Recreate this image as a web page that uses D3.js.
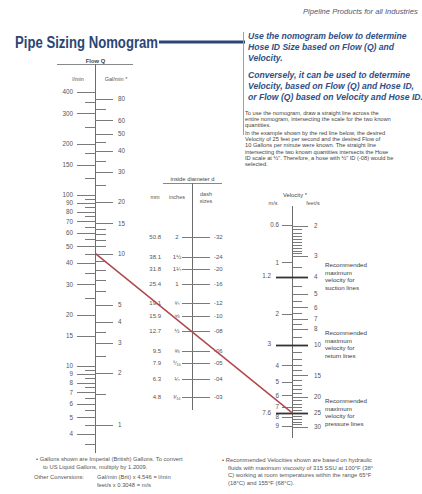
<!DOCTYPE html>
<html><head><meta charset="utf-8">
<script src="https://cdn.jsdelivr.net/npm/d3@7"></script>
<style>
html,body{margin:0;padding:0;background:#fff;}
svg{display:block;font-family:"Liberation Sans",Arial,sans-serif;}
</style>
</head><body>
<svg id="c" width="422" height="494"></svg>
<script>
// ---------- DATA ----------
const flowLpmMajor = [400, 300, 200, 150, 100, 90, 80, 70, 60, 50, 40, 30, 20, 15, 10, 9, 8, 7, 6, 5, 4];
const flowLpmMinor = [350, 250, 175, 125, 95, 85, 75, 65, 55, 45, 35, 25, 9.5, 8.5, 7.5, 6.5, 5.5, 4.5, 3.5];
const flowGpmMajor = [80, 60, 50, 40, 30, 20, 15, 10, 5, 4, 3, 2, 1];
const flowGpmMinor = [70, 45, 35, 25, 14, 13, 12, 11, 9, 8, 7, 6, 3.5, 2.5, 1.5];
const galToLitre = 4.546;

const diaMm = [50.8, 38.1, 31.8, 25.4, 19.1, 15.9, 12.7, 9.5, 7.9, 6.3, 4.8];
const diaInch = ["2", "1½", "1¼", "1", "¾", "⅝", "½", "⅜", "⁵⁄₁₆", "¼", "³⁄₁₆"];
const diaDash = ["-32", "-24", "-20", "-16", "-12", "-10", "-08", "-06", "-05", "-04", "-03"];

const velMs = [0.6, 1, 2, 4, 5, 6, 7, 8, 9];
const velFtMajor = [2, 3, 5, 6, 7, 8, 15, 20, 30];
const velFtMinor = [2.1, 2.2, 2.3, 2.4, 2.5, 2.6, 2.7, 2.8, 2.9, 3.5, 4.5, 5.5, 6.5, 7.5, 9,
  11, 12, 13, 14, 16, 17, 18, 19, 21, 22, 23, 24, 26, 27, 28, 29];
const recMs = [1.2, 3, 7.6];
const recFt = [4, 10, 25];
const recLines = ["suction lines", "return lines", "pressure lines"];
const msToFt = 1 / 0.3048;

const exampleFlowGpm = 10;
const exampleVelFt = 25;

// ---------- SETUP ----------
const svg = d3.select("#c");
const FX = 95.5, DX = 192.5, VX = 292.5;
const yFlow = d3.scaleLog().domain([100, 10]).range([195, 366]);
const yDia = d3.scaleLog().domain([50.8, 4.8]).range([237, 397]);
const yVel = d3.scaleLog().domain([2, 30]).range([225.7, 426.7]);

const tickCol = "#7a7a7a", txtCol = "#555";
const blue = "#2f4f86", titleBlue = "#2b4672";

function txt(x, y, s, o = {}) {
  const t = svg.append("text").attr("x", x).attr("y", y).text(s)
    .attr("font-size", o.size || 6).attr("fill", o.fill || txtCol)
    .attr("text-anchor", o.anchor || "start");
  if (o.weight) t.attr("font-weight", o.weight);
  if (o.style) t.attr("font-style", o.style);
  if (o.len) t.attr("textLength", o.len).attr("lengthAdjust", "spacingAndGlyphs");
  return t;
}
function hTicks(vals, yf, x1, x2, w, col) {
  svg.append("g").selectAll("line").data(vals).join("line")
    .attr("x1", x1).attr("x2", x2)
    .attr("y1", d => Math.round(yf(d)) + 0.5).attr("y2", d => Math.round(yf(d)) + 0.5)
    .attr("stroke", col || tickCol).attr("stroke-width", w || 1);
}
function labels(vals, yf, x, anchor, fmt, size) {
  svg.append("g").selectAll("text").data(vals).join("text")
    .attr("x", x).attr("y", d => yf(d)).attr("dy", "0.36em")
    .attr("text-anchor", anchor).attr("font-size", size || 6.3).attr("fill", txtCol)
    .text(fmt);
}

// ---------- HEADER ----------
txt(303, 14, "Pipeline Products for all Industries", {size: 7.6, style: "italic", fill: "#4b5a75"});
txt(15, 48, "Pipe Sizing Nomogram", {size: 16, weight: "bold", fill: titleBlue, len: 143});
svg.append("line").attr("x1", 159).attr("x2", 245).attr("y1", 42).attr("y2", 42)
  .attr("stroke", titleBlue).attr("stroke-width", 3);
svg.append("line").attr("x1", 243.5).attr("x2", 243.5).attr("y1", 32).attr("y2", 135)
  .attr("stroke", "#a0a0a0").attr("stroke-width", 1);

const para1 = ["Use the nomogram below to determine", "Hose ID Size based on Flow (Q) and", "Velocity."];
const para2 = ["Conversely, it can be used to determine", "Velocity, based on Flow (Q) and Hose ID,", "or Flow (Q) based on Velocity and Hose ID."];
para1.forEach((s, i) => txt(248, 39 + i * 11, s, {size: 8.6, weight: "bold", style: "italic", fill: blue}));
para2.forEach((s, i) => txt(248, 78 + i * 11, s, {size: 8.6, weight: "bold", style: "italic", fill: blue}));
const para3 = ["To use the nomogram, draw a straight line across the",
  "entire nomogram, intersecting the scale for the two known", "quantities."];
const para4 = ["In the example shown by the red line below, the desired",
  "Velocity of 25 feet per second and the desired Flow of",
  "10 Gallons per minute were known. The straight line",
  "intersecting the two known quantities intersects the Hose",
  "ID scale at ½\". Therefore, a hose with ½\" ID (-08) would be",
  "selected."];
para3.forEach((s, i) => txt(245, 115 + i * 6.2, s, {size: 5.7, fill: "#444"}));
para4.forEach((s, i) => txt(245, 135 + i * 6.2, s, {size: 5.7, fill: "#444"}));

// ---------- FLOW SCALE ----------
txt(FX, 63, "Flow Q", {size: 5.8, weight: "bold", anchor: "middle", fill: "#444"});
svg.append("line").attr("x1", 57).attr("x2", 133).attr("y1", 64.5).attr("y2", 64.5).attr("stroke", "#888");
txt(78, 81, "l/min", {size: 5.5, anchor: "middle"});
txt(116, 81, "Gal/min *", {size: 5.5, anchor: "middle"});
svg.append("line").attr("x1", FX).attr("x2", FX).attr("y1", 64).attr("y2", 453).attr("stroke", "#6c6c6c");
hTicks(flowLpmMajor, yFlow, 77, FX);
hTicks(flowLpmMinor, yFlow, 85, FX);
const yGal = d => yFlow(d * galToLitre);
hTicks(flowGpmMajor, yGal, FX, 113);
hTicks(flowGpmMinor, yGal, FX, 106);
labels(flowLpmMajor, yFlow, 73, "end", d => d);
labels(flowGpmMajor, yGal, 118, "start", d => d);

// ---------- DIAMETER SCALE ----------
txt(DX, 181, "inside diameter d", {size: 5.8, anchor: "middle", fill: "#444"});
svg.append("line").attr("x1", 163).attr("x2", 222).attr("y1", 183.5).attr("y2", 183.5).attr("stroke", "#888");
txt(155, 199, "mm", {size: 5.5, anchor: "middle"});
txt(177, 199, "inches", {size: 5.5, anchor: "middle"});
txt(206, 196, "dash", {size: 5.5, anchor: "middle"});
txt(206, 203, "sizes", {size: 5.5, anchor: "middle"});
svg.append("line").attr("x1", DX).attr("x2", DX).attr("y1", 183).attr("y2", 410).attr("stroke", "#6c6c6c");
hTicks(diaMm, yDia, 182, 210);
labels(diaMm, yDia, 161, "end", d => d3.format(".1f")(d), 6);
svg.append("g").selectAll("text").data(diaMm).join("text")
  .attr("x", 177).attr("y", d => yDia(d)).attr("dy", "0.36em").attr("text-anchor", "middle")
  .attr("font-size", 6).attr("fill", txtCol).text((d, i) => diaInch[i]);
svg.append("g").selectAll("text").data(diaMm).join("text")
  .attr("x", 214).attr("y", d => yDia(d)).attr("dy", "0.36em").attr("text-anchor", "start")
  .attr("font-size", 6).attr("fill", txtCol).text((d, i) => diaDash[i]);

// ---------- VELOCITY SCALE ----------
txt(295, 197, "Velocity *", {size: 5.8, anchor: "middle", fill: "#444"});
txt(273, 205, "m/s", {size: 5.5, anchor: "middle"});
txt(313, 205, "feet/s", {size: 5.5, anchor: "middle"});
svg.append("line").attr("x1", VX).attr("x2", VX).attr("y1", 206).attr("y2", 438).attr("stroke", "#6c6c6c");
const yMs = d => yVel(d * msToFt);
hTicks(velMs, yMs, 282, VX);
hTicks(velFtMajor, yVel, VX, 308);
hTicks(velFtMinor, yVel, VX, 302);
labels(velMs, yMs, 279, "end", d => d);
labels(velFtMajor, yVel, 314, "start", d => d);
// recommended (thick) lines
hTicks(recFt, yVel, 276, 308, 1.8, "#333");
labels(recMs, yMs, 271, "end", d => d);
labels(recFt, yVel, 314, "start", d => d);
svg.append("g").selectAll("g").data(recFt).join("g")
  .each(function(d, i) {
    const y0 = yVel(d) - 10;
    ["Recommended", "maximum", "velocity for", recLines[i]].forEach((s, j) => {
      d3.select(this).append("text").attr("x", 325).attr("y", y0 + j * 7.5)
        .attr("font-size", 6.2).attr("fill", "#3a3a3a").text(s);
    });
  });

// ---------- EXAMPLE LINE ----------
svg.append("line")
  .attr("x1", FX).attr("y1", yGal(exampleFlowGpm))
  .attr("x2", VX).attr("y2", yVel(exampleVelFt))
  .attr("stroke", "#b0474c").attr("stroke-width", 1.5);

// ---------- FOOTNOTES ----------
txt(36, 461, "• Gallons shown are Imperial (British) Gallons. To convert", {size: 5.8});
txt(43, 469, "to US Liquid Gallons, multiply by 1.2009.", {size: 5.8});
txt(34, 478.5, "Other Conversions:", {size: 5.8});
txt(97, 478.5, "Gal/min (Brit) x 4.546 = l/min", {size: 5.8});
txt(97, 487, "feet/s x 0.3048 = m/s", {size: 5.8});
txt(222, 461.5, "• Recommended Velocities shown are based on hydraulic", {size: 5.9});
txt(228, 469.5, "fluids with maximum viscosity of 315 SSU at 100°F (38°", {size: 5.9});
txt(228, 477, "C) working at room temperatures within the range 65°F", {size: 5.9});
txt(228, 485, "(18°C) and 155°F (68°C).", {size: 5.9});
</script>
</body></html>
